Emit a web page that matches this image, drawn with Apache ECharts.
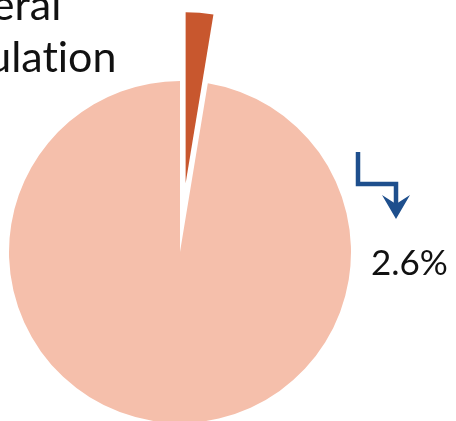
<!DOCTYPE html>
<html>
<head>
<meta charset="utf-8">
<script src="https://cdn.jsdelivr.net/npm/echarts@6/dist/echarts.min.js"></script>
<style>
html,body{margin:0;padding:0;background:#fff;}
#chart{width:456px;height:421px;}
</style>
</head>
<body>
<div id="chart"></div>
<script>
// Data
var categories = ['Subgroup', 'General Population'];
var values = [2.6, 97.4];
var colors = ['#C8572E', '#F5BFAB'];
var labelLines = ['General', 'Populat\u200Cion'];

var chart = echarts.init(document.getElementById('chart'), null, {renderer: 'canvas'});

var option = {
  animation: false,
  backgroundColor: '#ffffff',
  series: [{
    type: 'pie',
    center: [180, 252],
    radius: [0, 171],
    startAngle: 90,
    clockwise: true,
    selectedMode: 'single',
    selectedOffset: 69,
    silent: true,
    label: {show: false},
    labelLine: {show: false},
    itemStyle: {borderWidth: 0},
    emphasis: {disabled: true},
    data: categories.map(function (c, i) {
      return {name: c, value: values[i], selected: i === 0, itemStyle: {color: colors[i]}};
    })
  }],
  graphic: [
    {
      type: 'text',
      x: -86,
      y: -20,
      style: {
        text: labelLines.join('\n'),
        font: '43px Lato',
        fill: '#111111',
        lineHeight: 52,
        textAlign: 'left',
        textVerticalAlign: 'top'
      }
    },
    {
      type: 'text',
      x: 371,
      y: 246,
      style: {
        text: values[0].toFixed(1) + '%',
        font: '35px Lato',
        fill: '#111111',
        textAlign: 'left',
        textVerticalAlign: 'top'
      }
    },
    {
      type: 'polyline',
      shape: {points: [[358, 152], [358, 184], [396, 184], [396, 204]]},
      style: {stroke: '#1E4F8D', lineWidth: 4.5, fill: null, lineJoin: 'miter'}
    },
    {
      type: 'polygon',
      shape: {points: [[382, 195], [396, 204], [410, 195], [396, 219]]},
      style: {fill: '#1E4F8D'}
    }
  ]
};
chart.setOption(option);
</script>
</body>
</html>
